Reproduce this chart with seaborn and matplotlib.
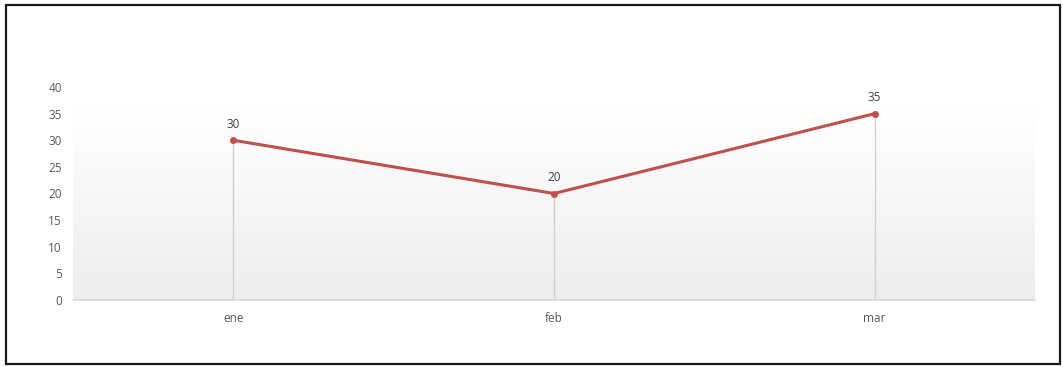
import numpy as np
import pandas as pd
import matplotlib
matplotlib.use("Agg")
import matplotlib.pyplot as plt
from matplotlib.patches import Rectangle
import seaborn as sns

months = ["ene", "feb", "mar"]
values = [30, 20, 35]
yticks = [0, 5, 10, 15, 20, 25, 30, 35, 40]

sns.set_style("white")
plt.rcParams['font.family'] = ['Open Sans', 'DejaVu Sans']

fig = plt.figure(figsize=(10.63, 3.67), dpi=100)
ax = fig.add_axes([73/1063, 1-300/367, (1035-73)/1063, (300-87)/367])

df = pd.DataFrame({"mes": months, "valor": values})
xpos = np.arange(len(months))

# gradient background (white at top, light grey at bottom)
grad = np.linspace(0.0, 1.0, 256).reshape(-1, 1)
cmap = matplotlib.colors.LinearSegmentedColormap.from_list("g", ["#ffffff", "#ededed"])
ax.imshow(grad, cmap=cmap, aspect="auto", extent=[-0.5, len(months)-0.5, 0, 35.5],
          origin="upper", zorder=0, vmin=0, vmax=1)

ax.vlines(xpos, 0, values, color="#d0d0d0", lw=1, zorder=1)
sns.lineplot(data=df, x="mes", y="valor", ax=ax, color="#c0504d", lw=2.2,
             marker="o", markersize=5, markeredgewidth=0, sort=False, zorder=3)
ax.axhline(0, color="#d9d9d9", lw=1.2, zorder=2, clip_on=False)

for x, v in zip(xpos, values):
    ax.annotate(str(v), (x, v), xytext=(0, 7), textcoords="offset points",
                ha="center", va="bottom", fontsize=8.5, color="#404040")

ax.set_xlim(-0.5, len(months)-0.5)
ax.set_ylim(0, 40)
ax.set_yticks(yticks)
ax.set_xticks(xpos)
ax.set_xticklabels(months)
ax.tick_params(axis="both", length=0, labelsize=8.5, colors="#595959")
ax.tick_params(axis="y", pad=8)
ax.tick_params(axis="x", pad=9)
ax.set_xlabel("")
ax.set_ylabel("")
for s in ax.spines.values():
    s.set_visible(False)
ax.patch.set_alpha(0)

fig.patches.append(Rectangle((6/1063, 1-364/367), (1060-6)/1063, (364-5)/367,
                             transform=fig.transFigure, fill=False,
                             edgecolor="#1a1a1a", lw=1.6, zorder=10))

fig.savefig("out.png", dpi=100, facecolor="white")
